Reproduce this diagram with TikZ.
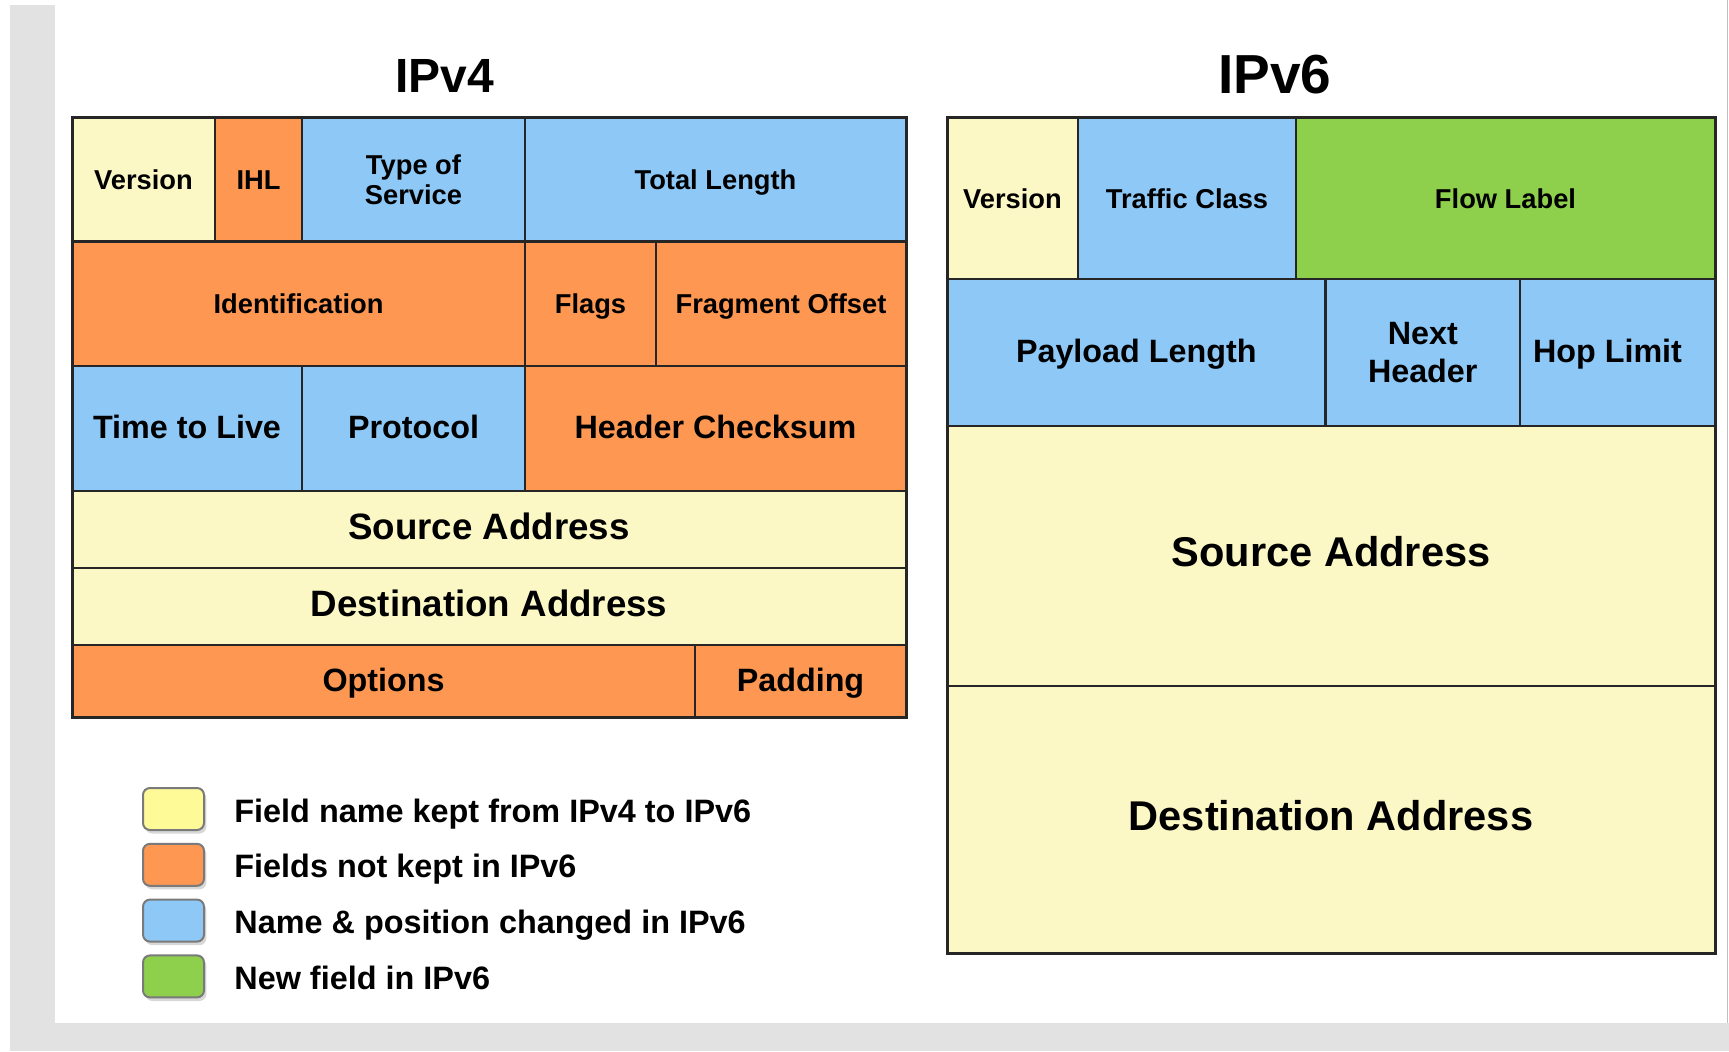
\documentclass[tikz,border=0pt]{standalone}
\usepackage{fontspec}
\setmainfont{Liberation Sans}
\usetikzlibrary{calc,positioning,shadows}

\definecolor{keptyellow}{HTML}{FCF8C6}
\definecolor{droporange}{HTML}{FD9752}
\definecolor{movedblue}{HTML}{8DC8F7}
\definecolor{newgreen}{HTML}{8ED04C}
\definecolor{swyellow}{HTML}{FFFA98}
\definecolor{cellline}{HTML}{262626}
\definecolor{pagegray}{HTML}{E2E2E2}

\tikzset{
  cellbox/.style={draw=cellline, line width=1.1pt},
  frame/.style={draw=cellline, line width=1.5pt},
  lblsmall/.style={font=\bfseries\fontsize{13.65}{15}\selectfont, inner sep=0pt,
    text height=1em, text depth=0pt},
  lblmid/.style={font=\bfseries\fontsize{16.15}{18.8}\selectfont, inner sep=0pt,
    text height=1em, text depth=0pt},
  lblbig/.style={font=\bfseries\fontsize{18.35}{22}\selectfont, inner sep=0pt,
    text height=1em, text depth=0pt},
  lblhuge/.style={font=\bfseries\fontsize{20.8}{25}\selectfont, inner sep=0pt,
    text height=1.06em, text depth=0pt},
  twosmall/.style={font=\bfseries\fontsize{13.65}{15}\selectfont, inner sep=0pt, align=center},
  twomid/.style={font=\bfseries\fontsize{16.15}{18.8}\selectfont, inner sep=0pt, align=center},
  swatch/.style={draw=black!52, line width=1pt, rounded corners=3.5pt,
    minimum width=30.5pt, minimum height=21pt, inner sep=0pt,
    drop shadow={shadow xshift=1.2pt, shadow yshift=-1.8pt, opacity=0.3}},
  legendtext/.style={font=\bfseries\fontsize{16.2}{19}\selectfont, inner sep=0pt,
    text height=1em, text depth=0pt},
}

% one header field: [label style]{name}{x1}{y1}{x2}{y2}{colour}{text}
\newcommand{\hdrfield}[8][lblsmall]{%
  \draw[cellbox, fill=#7] (#3,#4) rectangle (#5,#6);
  \node[#1] (#2) at ($(#3,#4)!.5!(#5,#6)$) {#8};}

\begin{document}
\begin{tikzpicture}[x=0.5pt, y=-0.5pt]
  \useasboundingbox (0,0) rectangle (1729,1051);
  % ── page ──
  \fill[white] (0,0) rectangle (1729,1051);
  \fill[pagegray] (10,5) rectangle (55,1051);
  \fill[pagegray] (10,1023) rectangle (1729,1051);
  \draw[pagegray!85!black, line width=0.5pt] (1727.5,0) -- (1727.5,1023);
  %
  % ── Titles ──
  \node[font=\bfseries\fontsize{24}{28}\selectfont, anchor=base] (tfour) at (445,92) {IPv4};
  \node[font=\bfseries\fontsize{27.5}{32}\selectfont, anchor=base] (tsix) at (1275,93) {IPv6};
  %
  % ── IPv4 header ──
  \hdrfield{fver}{72}{117}{215}{241.5}{keptyellow}{Version}
  \hdrfield{fihl}{215}{117}{302}{241.5}{droporange}{IHL}
  \hdrfield[twosmall]{ftos}{302}{117}{525}{241.5}{movedblue}{Type of\\Service}
  \hdrfield{ftotal}{525}{117}{906}{241.5}{movedblue}{Total Length}
  \hdrfield{fident}{72}{241.5}{525}{366}{droporange}{Identification}
  \hdrfield{fflags}{525}{241.5}{656}{366}{droporange}{Flags}
  \hdrfield{ffrag}{656}{241.5}{906}{366}{droporange}{Fragment Offset}
  \hdrfield[lblmid]{fttl}{72}{366}{302}{490.7}{movedblue}{Time to Live}
  \hdrfield[lblmid]{fproto}{302}{366}{525}{490.7}{movedblue}{Protocol}
  \hdrfield[lblmid]{fcheck}{525}{366}{906}{490.7}{droporange}{Header Checksum}
  \hdrfield[lblbig]{fsrc}{72}{490.7}{906}{568}{keptyellow}{Source Address}
  \hdrfield[lblbig]{fdst}{72}{568}{906}{645}{keptyellow}{Destination Address}
  \hdrfield[lblmid]{fopt}{72}{645}{695}{717}{droporange}{Options}
  \hdrfield[lblmid]{fpad}{695}{645}{906}{717}{droporange}{Padding}
  \draw[frame] (72,117) rectangle (906,717);
  %
  % ── IPv6 header ──
  \hdrfield{sver}{947}{117}{1078}{279}{keptyellow}{Version}
  \hdrfield{straffic}{1078}{117}{1296}{279}{movedblue}{Traffic Class}
  \hdrfield{sflow}{1296}{117}{1715}{279}{newgreen}{Flow Label}
  \hdrfield[lblmid]{spayload}{947}{279}{1325.5}{425.6}{movedblue}{Payload Length}
  \hdrfield[twomid]{snext}{1325.5}{279}{1520}{425.6}{movedblue}{Next\\Header}
  \hdrfield[{lblmid, xshift=-5pt}]{shop}{1520}{279}{1715}{425.6}{movedblue}{Hop Limit}
  \hdrfield[lblhuge]{ssrc}{947}{425.6}{1715}{686}{keptyellow}{Source Address}
  \hdrfield[lblhuge]{sdst}{947}{686}{1715}{953}{keptyellow}{Destination Address}
  \draw[frame] (947,117) rectangle (1715,953);
  %
  % ── Legend ──
  \node[swatch, fill=swyellow] (swkept) at (173.5,809) {};
  \node[swatch, fill=droporange, below=5.9pt of swkept] (swdrop) {};
  \node[swatch, fill=movedblue, below=5.9pt of swdrop] (swmoved) {};
  \node[swatch, fill=newgreen, below=5.9pt of swmoved] (swnew) {};
  \node[legendtext, right=14.5pt of swkept, yshift=-1.5pt] (lgkept) {Field name kept from IPv4 to IPv6};
  \node[legendtext, right=14.5pt of swdrop, yshift=-1.5pt] (lgdrop) {Fields not kept in IPv6};
  \node[legendtext, right=14.5pt of swmoved, yshift=-1.5pt] (lgmoved) {Name \& position changed in IPv6};
  \node[legendtext, right=14.5pt of swnew, yshift=-1.5pt] (lgnew) {New field in IPv6};
\end{tikzpicture}
\end{document}
